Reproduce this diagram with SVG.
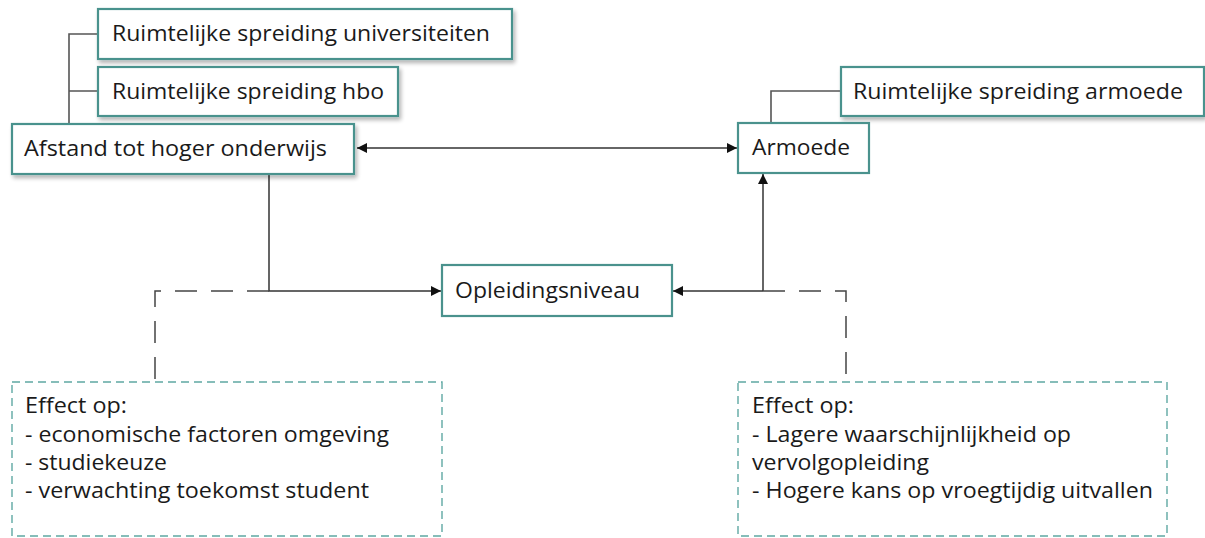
<svg xmlns="http://www.w3.org/2000/svg" width="1205" height="538" viewBox="0 0 1205 538">
<style>
.box{fill:#fff;stroke:#4a928d;stroke-width:2.2}
.dbox{fill:#fff;stroke:#5fa8a3;stroke-width:1.4;stroke-dasharray:8 5}
.t{font-family:"Open Sans","Liberation Sans",sans-serif;font-size:21px;fill:#1a1a1a}
.ln{fill:none;stroke:#333;stroke-width:1.5}
.br{fill:none;stroke:#555;stroke-width:1.6}
.dl{fill:none;stroke:#444;stroke-width:1.5;stroke-dasharray:22 14}
</style>
<defs>
<filter id="sh" x="-5%" y="-20%" width="115%" height="160%">
<feGaussianBlur in="SourceAlpha" stdDeviation="2"/>
<feOffset dx="2" dy="3" result="b"/>
<feComponentTransfer><feFuncA type="linear" slope="0.3"/></feComponentTransfer>
<feMerge><feMergeNode/><feMergeNode in="SourceGraphic"/></feMerge>
</filter>
<marker id="ah" viewBox="0 0 10 10" refX="10" refY="5" markerWidth="10" markerHeight="10" markerUnits="userSpaceOnUse" orient="auto-start-reverse">
<path d="M0,0 L10,5 L0,10 z" fill="#111"/>
</marker>
</defs>
<g id="connectors">
<path class="br" d="M98,34 H69 V124 M69,91 H98"/>
<path class="br" d="M841,91 H771 V123"/>
<line class="ln" x1="357" y1="148" x2="737" y2="148" marker-start="url(#ah)" marker-end="url(#ah)"/>
<path class="ln" d="M269,174 V291 H441" marker-end="url(#ah)"/>
<path class="ln" d="M763,291 H673" marker-end="url(#ah)"/>
<path class="ln" d="M763,291 V174" marker-end="url(#ah)"/>
<path class="dl" d="M269,291 H155 V382"/>
<path class="dl" d="M763,291 H846 V382"/>
</g>
<g id="n-univ"><rect class="box" x="98" y="9" width="414" height="50" filter="url(#sh)"/><text class="t" x="112" y="41" textLength="378" lengthAdjust="spacingAndGlyphs">Ruimtelijke spreiding universiteiten</text></g>
<g id="n-hbo"><rect class="box" x="98" y="67" width="300" height="49" filter="url(#sh)"/><text class="t" x="112" y="98.5" textLength="272" lengthAdjust="spacingAndGlyphs">Ruimtelijke spreiding hbo</text></g>
<g id="n-afstand"><rect class="box" x="12" y="124" width="342" height="50" filter="url(#sh)"/><text class="t" x="24" y="156" textLength="303" lengthAdjust="spacingAndGlyphs">Afstand tot hoger onderwijs</text></g>
<g id="n-armoede-spr"><rect class="box" x="841" y="67" width="363" height="49" filter="url(#sh)"/><text class="t" x="853" y="98.5" textLength="330" lengthAdjust="spacingAndGlyphs">Ruimtelijke spreiding armoede</text></g>
<g id="n-armoede"><rect class="box" x="738" y="123" width="131" height="50"/><text class="t" x="752" y="155" textLength="98" lengthAdjust="spacingAndGlyphs">Armoede</text></g>
<g id="n-opleiding"><rect class="box" x="442" y="265" width="230" height="51"/><text class="t" x="455" y="297.5" textLength="185" lengthAdjust="spacingAndGlyphs">Opleidingsniveau</text></g>
<g id="n-effect-left"><rect class="dbox" x="12" y="382" width="430" height="154"/>
<text class="t" x="25" y="413" textLength="102" lengthAdjust="spacingAndGlyphs">Effect op:</text>
<text class="t" x="25" y="442" textLength="364" lengthAdjust="spacingAndGlyphs">- economische factoren omgeving</text>
<text class="t" x="25" y="470" textLength="142" lengthAdjust="spacingAndGlyphs">- studiekeuze</text>
<text class="t" x="25" y="498" textLength="344" lengthAdjust="spacingAndGlyphs">- verwachting toekomst student</text>
</g>
<g id="n-effect-right"><rect class="dbox" x="738" y="382" width="429" height="154"/>
<text class="t" x="752" y="413" textLength="102" lengthAdjust="spacingAndGlyphs">Effect op:</text>
<text class="t" x="752" y="442" textLength="319" lengthAdjust="spacingAndGlyphs">- Lagere waarschijnlijkheid op</text>
<text class="t" x="752" y="470" textLength="177" lengthAdjust="spacingAndGlyphs">vervolgopleiding</text>
<text class="t" x="752" y="498" textLength="401" lengthAdjust="spacingAndGlyphs">- Hogere kans op vroegtijdig uitvallen</text>
</g>
</svg>
